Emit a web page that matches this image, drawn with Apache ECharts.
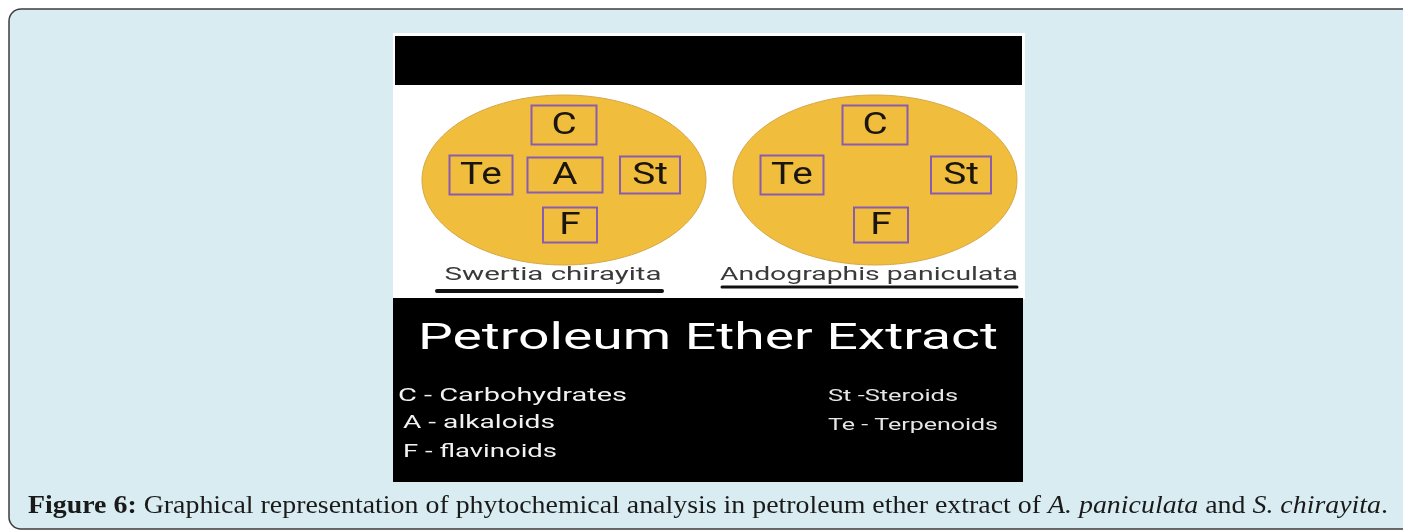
<!DOCTYPE html>
<html><head><meta charset="utf-8">
<script src="https://cdn.jsdelivr.net/npm/echarts@6/dist/echarts.min.js"></script>
<style>html,body{margin:0;padding:0;background:#fff;}#c{width:1403px;height:531px;}</style>
</head><body><div id="c"></div>
<script>
// ---------------- DATA ----------------
const species = ['Swertia chirayita', 'Andographis paniculata'];
const compoundsPresent = [['C', 'Te', 'A', 'St', 'F'], ['C', 'Te', 'St', 'F']];
const panelTitle = 'Petroleum Ether Extract';
const legendLeft = ['C - Carbohydrates', 'A - alkaloids', 'F - flavinoids'];
const legendRight = ['St -Steroids', 'Te - Terpenoids'];
const captionParts = [
  ['Figure 6:', 'b'],
  [' Graphical representation of phytochemical analysis in petroleum ether extract of ', 'n'],
  ['A. paniculata', 'i'],
  [' and ', 'n'],
  ['S. chirayita', 'i'],
  ['.', 'n']
];

// ---------------- LAYOUT / STYLE ----------------
const PANEL_CENTERS = [[564, 180], [875, 180]];
const ELLIPSE_R = [142, 85];
const SLOT = { C: [0, -55], Te: [-83, -5], A: [1, -5], St: [86, -5], F: [6, 45] };
const BOX = { C: [65, 39], Te: [63, 39], A: [75, 35], St: [60, 37], F: [54, 35] };
const SPECIES_LABEL = [{ cx: 553, w: 217, y: 275 }, { cx: 869, w: 298, y: 275 }];
const UNDERLINE = [{ x1: 437, x2: 662, y: 291, lw: 4 }, { x1: 722, x2: 1017, y: 287, lw: 3 }];
const SANS = 'Roboto';
const SERIF = '"Liberation Serif"';

const mctx = document.createElement('canvas').getContext('2d');
function tw(text, font) { mctx.font = font; return mctx.measureText(text).width; }

const graphics = [];
// frame
graphics.push({ type: 'rect', z: 0, shape: { x: 9, y: 9, width: 1430, height: 520, r: 12 },
  style: { fill: '#d8ecf1', stroke: '#3d3d3d', lineWidth: 1.5 } });
// picture background
graphics.push({ type: 'rect', z: 1, shape: { x: 393, y: 33, width: 632, height: 266 }, style: { fill: '#ffffff' } });
graphics.push({ type: 'rect', z: 2, shape: { x: 395, y: 36, width: 627, height: 49 }, style: { fill: '#000000' } });
graphics.push({ type: 'rect', z: 2, shape: { x: 393, y: 298, width: 630, height: 184 }, style: { fill: '#000000' } });

function fittedText(text, font, left, width, y, fill, align) {
  const s = width / tw(text, font);
  return { type: 'text', z: 3, x: align === 'center' ? left : left, y: y, scaleX: s,
    style: { text: text, font: font, fill: fill, align: align || 'left', verticalAlign: 'middle' } };
}

// species labels + underlines
species.forEach((name, i) => {
  const L = SPECIES_LABEL[i];
  graphics.push(fittedText(name, '18px ' + SANS, L.cx, L.w, L.y, '#3a3a3a', 'center'));
  const U = UNDERLINE[i];
  graphics.push({ type: 'line', z: 3, shape: { x1: U.x1, y1: U.y, x2: U.x2, y2: U.y },
    style: { stroke: '#111', lineWidth: U.lw, lineCap: 'round' } });
});

// title
graphics.push(fittedText(panelTitle, '36px ' + SANS, 418, 580, 340, '#ffffff', 'left'));

// legend
const LEG_L = { x: [398, 403, 403], w: [229, 152, 154], y: [396, 423, 452] };
legendLeft.forEach((t, i) => graphics.push(fittedText(t, '19px ' + SANS, LEG_L.x[i], LEG_L.w[i], LEG_L.y[i], '#f2f2f2', 'left')));
const LEG_R = { x: [828, 828], w: [130, 170], y: [397, 426] };
legendRight.forEach((t, i) => graphics.push(fittedText(t, '17px ' + SANS, LEG_R.x[i], LEG_R.w[i], LEG_R.y[i], '#e6e6e6', 'left')));

// caption
const capFonts = { b: 'bold 26px ' + SERIF, i: 'italic 26px ' + SERIF, n: '26px ' + SERIF };
let capW = 0;
captionParts.forEach(p => { capW += tw(p[0], capFonts[p[1]]); });
const capText = captionParts.map(p => '{' + p[1] + '|' + p[0] + '}').join('');
graphics.push({ type: 'text', z: 3, x: 28, y: 506, scaleX: 1360 / capW,
  style: { text: capText, font: capFonts.n, fill: '#1a1a1a', verticalAlign: 'middle',
    rich: {
      b: { font: capFonts.b, fill: '#1a1a1a' },
      i: { font: capFonts.i, fill: '#1a1a1a' },
      n: { font: capFonts.n, fill: '#1a1a1a' }
    } } });

// ---------------- CHART ----------------
const grids = [], xAxes = [], yAxes = [], series = [];
species.forEach((name, i) => {
  const [cx, cy] = PANEL_CENTERS[i];
  grids.push({ left: cx - ELLIPSE_R[0], top: cy - ELLIPSE_R[1], width: ELLIPSE_R[0] * 2, height: ELLIPSE_R[1] * 2 });
  xAxes.push({ type: 'value', gridIndex: i, min: -ELLIPSE_R[0], max: ELLIPSE_R[0], show: false });
  yAxes.push({ type: 'value', gridIndex: i, min: -ELLIPSE_R[1], max: ELLIPSE_R[1], inverse: true, show: false });
  series.push({
    type: 'custom', name: name + ' plate', xAxisIndex: i, yAxisIndex: i, z: 5, silent: true,
    data: [[0, 0]],
    renderItem: (params, api) => {
      const c = api.coord([0, 0]);
      const s = api.size([ELLIPSE_R[0], ELLIPSE_R[1]]);
      return { type: 'ellipse', shape: { cx: c[0], cy: c[1], rx: Math.abs(s[0]), ry: Math.abs(s[1]) },
        style: { fill: '#f1bd3c', stroke: '#d4a849', lineWidth: 1 } };
    }
  });
  const list = compoundsPresent[i];
  series.push({
    type: 'custom', name: name, xAxisIndex: i, yAxisIndex: i, z: 6, silent: true,
    data: list.map(k => ({ name: k, value: SLOT[k] })),
    renderItem: (params, api) => {
      const k = list[params.dataIndex];
      const c = api.coord([api.value(0), api.value(1)]);
      const [w, h] = BOX[k];
      return { type: 'group', children: [
        { type: 'rect', shape: { x: c[0] - w / 2, y: c[1] - h / 2, width: w, height: h },
          style: { fill: 'rgba(0,0,0,0)', stroke: '#8a5cb0', lineWidth: 2 } },
        { type: 'text', x: c[0], y: c[1] + 1, scaleX: 1.25,
          style: { text: k, font: '31px ' + SANS, fill: '#1b1510', align: 'center', verticalAlign: 'middle' } }
      ] };
    }
  });
});

const chart = echarts.init(document.getElementById('c'), null, { renderer: 'canvas' });
chart.setOption({
  animation: false,
  backgroundColor: '#ffffff',
  graphic: { elements: graphics },
  grid: grids, xAxis: xAxes, yAxis: yAxes, series: series
});
</script></body></html>
